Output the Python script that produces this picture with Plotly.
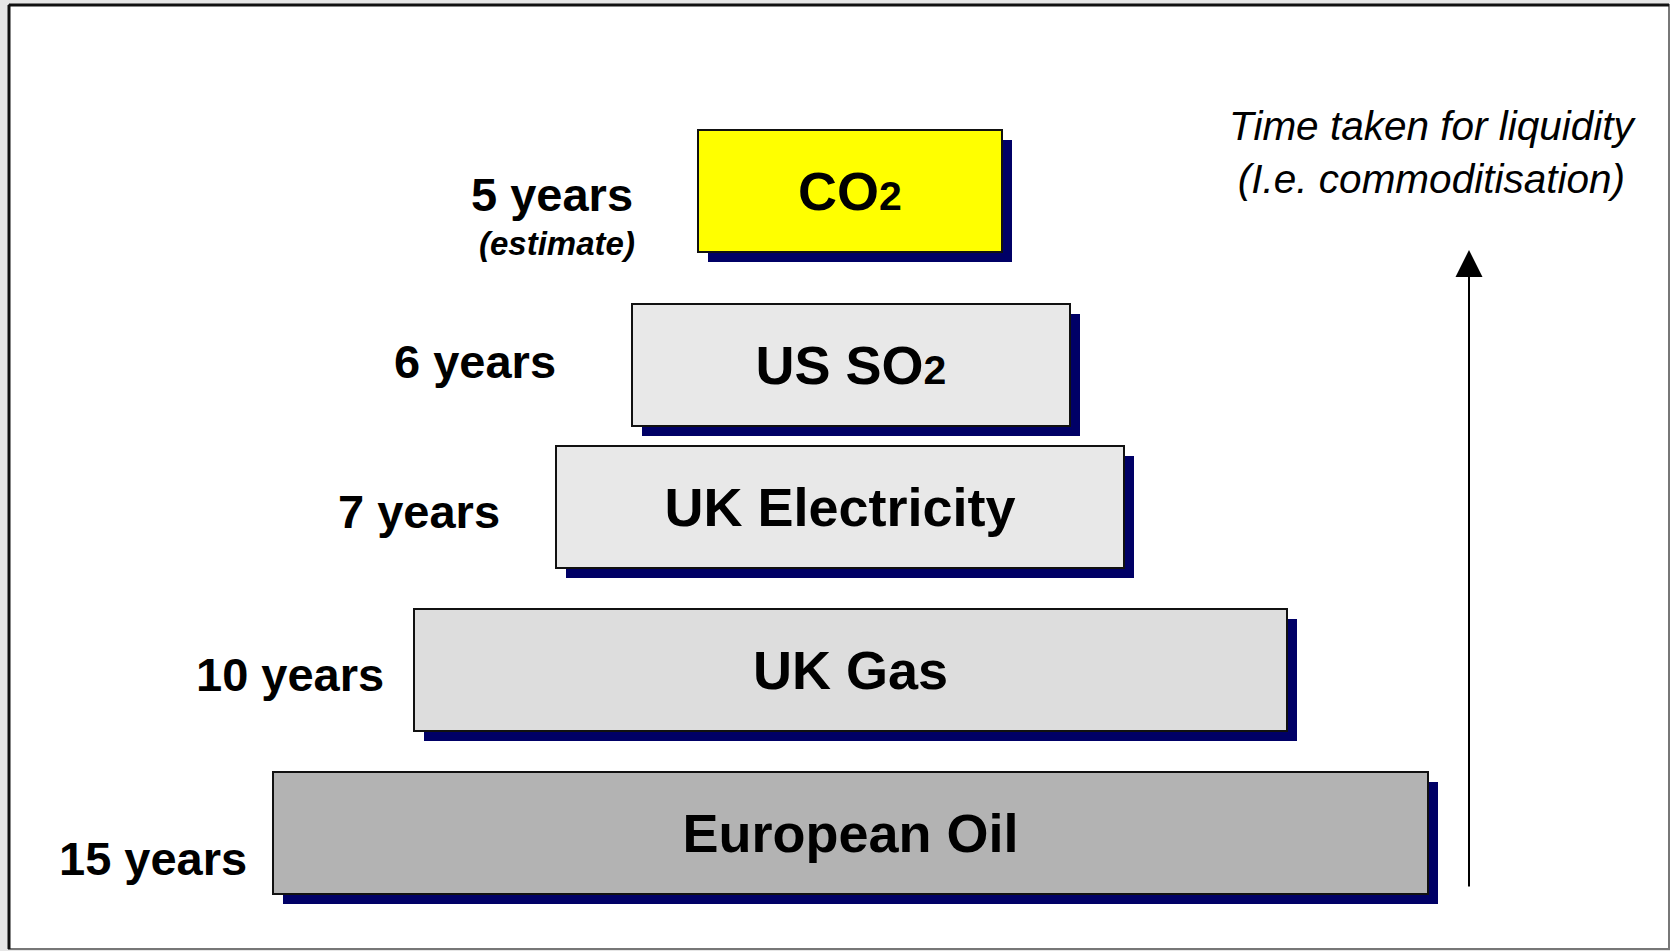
import plotly.graph_objects as go

# ---- data ----
markets = ["CO<sub>2</sub>", "US SO<sub>2</sub>", "UK Electricity", "UK Gas", "European Oil"]
years = [5, 6, 7, 10, 15]
year_labels = ["5 years", "6 years", "7 years", "10 years", "15 years"]
note_label = "(estimate)"
side_title = ["Time taken for liquidity", "(I.e. commoditisation)"]

# ---- geometry (pixel-like units of the canvas) ----
box_left = [698, 632, 556, 414, 273]
box_width = [304, 438, 568, 873, 1155]
box_center_y = [191, 365, 507, 670, 833]
box_height = 122
shadow_offset = 10
fill_colors = ["#FFFF00", "#E8E8E8", "#E8E8E8", "#DDDDDD", "#B3B3B3"]
shadow_color = "#000066"
label_right_x = [635, 558, 502, 386, 249]
label_y = [194, 361, 511, 674, 858]

W, H = 1670, 951
FONT = "Liberation Sans, Arial, sans-serif"

fig = go.Figure()

# shadows
fig.add_trace(go.Bar(
    orientation="h",
    y=[c + shadow_offset for c in box_center_y],
    x=box_width,
    base=[l + shadow_offset for l in box_left],
    width=box_height,
    marker=dict(color=shadow_color, line=dict(width=0)),
    hoverinfo="skip", showlegend=False,
))

# boxes
def fmt(name):
    return "<b>" + name.replace("<sub>2</sub>", "<span style='font-size:41px'>2</span>") + "</b>"

fig.add_trace(go.Bar(
    orientation="h",
    y=box_center_y,
    x=box_width,
    base=box_left,
    width=box_height,
    marker=dict(color=fill_colors, line=dict(color="#111111", width=2)),
    text=[fmt(m) for m in markets],
    textposition="inside",
    insidetextanchor="middle",
    textangle=0,
    constraintext="none",
    textfont=dict(family=FONT, size=54, color="black"),
    customdata=years,
    hovertemplate="%{text}: %{customdata} years<extra></extra>",
    showlegend=False,
))

annotations = []
for lab, x, y in zip(year_labels, label_right_x, label_y):
    annotations.append(dict(
        x=x, y=y, xref="x", yref="y", text="<b>" + lab + "</b>",
        showarrow=False, xanchor="right", yanchor="middle",
        font=dict(family=FONT, size=47, color="black"),
    ))
annotations.append(dict(
    x=637, y=243, xref="x", yref="y", text="<b><i>" + note_label + "</i></b>",
    showarrow=False, xanchor="right", yanchor="middle",
    font=dict(family=FONT, size=33, color="black"),
))
annotations.append(dict(
    x=1433, y=152, xref="x", yref="y",
    text="<i>" + side_title[0] + "</i><br><i>" + side_title[1] + "</i>",
    showarrow=False, xanchor="center", yanchor="middle", align="center",
    font=dict(family=FONT, size=40.5, color="black"),
))
# arrow
annotations.append(dict(
    x=1469, y=250, ax=1469, ay=888, xref="x", yref="y", axref="x", ayref="y",
    text="", showarrow=True, arrowhead=2, arrowsize=2.7, arrowwidth=2,
    arrowcolor="black",
))

shapes = [
    dict(type="rect", xref="x", yref="y", x0=9, y0=5, x1=1669, y1=949,
         fillcolor="white", line=dict(color="#777777", width=2), layer="below"),
    dict(type="line", xref="x", yref="y", x0=9, y0=5, x1=1669, y1=5,
         line=dict(color="#111111", width=3), layer="below"),
    dict(type="line", xref="x", yref="y", x0=9, y0=5, x1=9, y1=949,
         line=dict(color="#111111", width=3), layer="below"),
]

fig.update_layout(
    width=W, height=H,
    margin=dict(l=0, r=0, t=0, b=0),
    paper_bgcolor="#E6E6E6",
    plot_bgcolor="rgba(0,0,0,0)",
    barmode="overlay",
    xaxis=dict(range=[0, W], visible=False, fixedrange=True),
    yaxis=dict(range=[H, 0], visible=False, fixedrange=True),
    annotations=annotations,
    shapes=shapes,
    font=dict(family=FONT),
)

fig.write_html(
    "out.html",
    config={"displayModeBar": False},
    post_script="document.body.style.margin='0';document.body.style.background='#E6E6E6';",
)
